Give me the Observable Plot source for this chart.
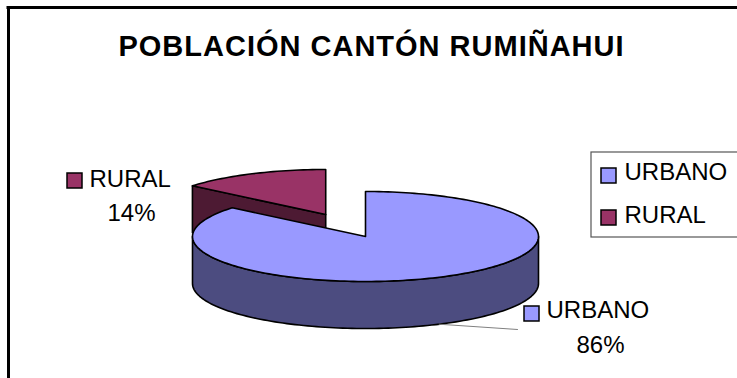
<!DOCTYPE html>
<html><head><meta charset="utf-8">
<script src="https://cdn.jsdelivr.net/npm/d3@7"></script>
<script src="https://cdn.jsdelivr.net/npm/@observablehq/plot@0.6"></script>
<style>html,body{margin:0;padding:0;background:#fff;overflow:hidden}</style>
</head><body><div id="chart"></div>
<script>
const title = "POBLACIÓN CANTÓN RUMIÑAHUI";
const categories = ["URBANO", "RURAL"];
const values = [86, 14];
const percentLabels = ["86%", "14%"];
const topColors = ["#9999FF", "#993366"];
const sideColors = ["#4C4C80", "#4D1A33"];
const explode = [0, 0.54];

const W = 737, H = 378;
const pie = {cx: 365, cy: 236, rx: 173, ry: 45, depth: 47};
const TAU = 2 * Math.PI;
const total = d3.sum(values);
let acc = 0;
const slices = values.map((v, i) => {
  const a0 = acc / total * TAU; acc += v; const a1 = acc / total * TAU;
  const mid = (a0 + a1) / 2;
  return {i, a0, a1, mid,
    ox: explode[i] * pie.rx * Math.sin(mid),
    oy: -explode[i] * pie.ry * Math.cos(mid)};
});
function pt(s, a, dz = 0, r = 1) {
  return [pie.cx + s.ox + r * pie.rx * Math.sin(a), pie.cy + s.oy - r * pie.ry * Math.cos(a) + dz];
}
function arc(s, a0, a1, dz) {
  const n = Math.max(2, Math.ceil(Math.abs(a1 - a0) / TAU * 240));
  return d3.range(n + 1).map(k => pt(s, a0 + (a1 - a0) * k / n, dz));
}
const D = pie.depth;
const polys = [];
slices.slice().sort((p, q) => Math.cos(q.mid) - Math.cos(p.mid)).forEach(s => {
  const aT = pt(s, 0, 0, 0), aB = pt(s, 0, D, 0);
  [[s.a0, s.a0 - Math.PI / 2], [s.a1, s.a1 + Math.PI / 2]].forEach(([a, n]) => {
    if (Math.cos(n) < -1e-6) polys.push({fill: sideColors[s.i], pts: [aT, pt(s, a), pt(s, a, D), aB, aT]});
  });
  const s0 = Math.max(s.a0, Math.PI / 2), e0 = Math.min(s.a1, 3 * Math.PI / 2);
  if (s0 < e0) {
    const top = arc(s, s0, e0, 0), bot = arc(s, e0, s0, D);
    polys.push({fill: sideColors[s.i], pts: [...top, ...bot, top[0]]});
  }
  polys.push({fill: topColors[s.i], pts: [aT, ...arc(s, s.a0, s.a1, 0), aT]});
});

// label layout (pixels)
const labelLayout = [
  {swatch: [524, 306], name: [546, 317], pct: [600, 352], leader: [517, 329]},
  {swatch: [67, 173], name: [89, 186], pct: [131, 220], leader: null}
];
const legendBox = {x1: 591, y1: 152, x2: 760, y2: 237};
const legendItem = i => ({swatch: [601, 168 + i * 42], text: [624, 179 + i * 43]});
const sw = 15;

const leaders = slices.filter(s => labelLayout[s.i].leader).map(s => [labelLayout[s.i].leader, pt(s, s.mid, D)]);

const marks = [
  Plot.ruleX([8], {y1: 6, y2: H + 5, stroke: "#000", strokeWidth: 3}),
  Plot.ruleY([7], {x1: 6.5, x2: W + 5, stroke: "#000", strokeWidth: 3}),
  Plot.text([title], {x: 371, y: 55, text: d => d, fontSize: 29, fontWeight: "bold", textAnchor: "middle", lineAnchor: "bottom"}),
  ...polys.map(p => Plot.line(p.pts, {x: d => d[0], y: d => d[1], fill: p.fill, stroke: "#000", strokeWidth: 1.6, strokeLinejoin: "round"})),
  ...leaders.map(l => Plot.line(l, {x: d => d[0], y: d => d[1], stroke: "#808080", strokeWidth: 1})),
  Plot.rect(categories, {x1: (d, i) => labelLayout[i].swatch[0], x2: (d, i) => labelLayout[i].swatch[0] + sw,
    y1: (d, i) => labelLayout[i].swatch[1], y2: (d, i) => labelLayout[i].swatch[1] + sw,
    fill: (d, i) => topColors[i], stroke: "#000", strokeWidth: 1.5}),
  Plot.text(categories, {x: (d, i) => labelLayout[i].name[0], y: (d, i) => labelLayout[i].name[1], text: d => d,
    fontSize: 24, textAnchor: "start", lineAnchor: "bottom"}),
  Plot.text(percentLabels, {x: (d, i) => labelLayout[i].pct[0], y: (d, i) => labelLayout[i].pct[1], text: d => d,
    fontSize: 24, textAnchor: "middle", lineAnchor: "bottom"}),
  Plot.rect([legendBox], {x1: "x1", x2: "x2", y1: "y1", y2: "y2", fill: "none", stroke: "#555", strokeWidth: 1.2}),
  Plot.rect(categories, {x1: (d, i) => legendItem(i).swatch[0], x2: (d, i) => legendItem(i).swatch[0] + sw,
    y1: (d, i) => legendItem(i).swatch[1], y2: (d, i) => legendItem(i).swatch[1] + sw,
    fill: (d, i) => topColors[i], stroke: "#000", strokeWidth: 1.5}),
  Plot.text(categories, {x: (d, i) => legendItem(i).text[0], y: (d, i) => legendItem(i).text[1], text: d => d,
    fontSize: 24, textAnchor: "start", lineAnchor: "bottom"})
];

const chart = Plot.plot({
  width: W, height: H, margin: 0,
  x: {domain: [0, W], range: [0, W], axis: null},
  y: {domain: [0, H], range: [0, H], axis: null},
  style: {fontFamily: "'Liberation Sans', Arial, sans-serif", background: "#fff", overflow: "hidden"},
  marks
});
d3.select(chart).selectAll("text").filter(function() { return this.textContent === title; }).attr("letter-spacing", "1px");
document.getElementById("chart").appendChild(chart);
</script></body></html>
